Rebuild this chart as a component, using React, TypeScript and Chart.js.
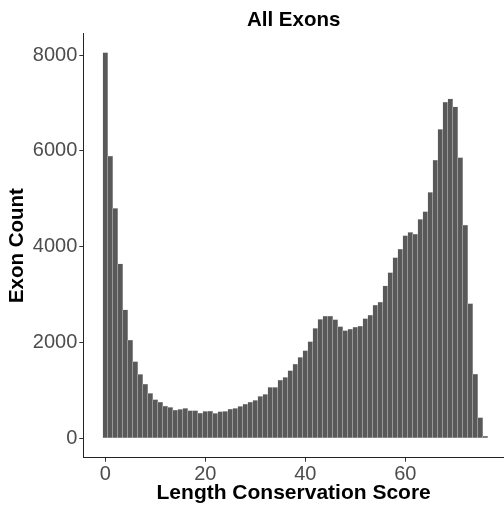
import React, { useEffect, useRef } from "react";
import { Chart, registerables } from "chart.js";

Chart.register(...registerables);

// Histogram bins (bin width 1, centred on the score)
const scores = [
  0, 1, 2, 3, 4, 5, 6, 7, 8, 9,
  10, 11, 12, 13, 14, 15, 16, 17, 18, 19,
  20, 21, 22, 23, 24, 25, 26, 27, 28, 29,
  30, 31, 32, 33, 34, 35, 36, 37, 38, 39,
  40, 41, 42, 43, 44, 45, 46, 47, 48, 49,
  50, 51, 52, 53, 54, 55, 56, 57, 58, 59,
  60, 61, 62, 63, 64, 65, 66, 67, 68, 69,
  70, 71, 72, 73, 74, 75, 76,
];

const exonCounts = [
  8050, 5890, 4800, 3640, 2680, 2050, 1600, 1336, 1133, 939,
  806, 758, 674, 647, 591, 605, 626, 576, 580, 528,
  563, 570, 522, 556, 563, 612, 626, 668, 716, 758,
  793, 876, 918, 1064, 1064, 1217, 1273, 1411, 1548, 1688,
  1829, 2017, 2296, 2484, 2553, 2553, 2476, 2330, 2246, 2281,
  2323, 2344, 2497, 2574, 2782, 2845, 3182, 3460, 3770, 3951,
  4229, 4300, 4264, 4571, 4730, 5134, 5809, 6449, 7020, 7088,
  6921, 5857, 4452, 2810, 1342, 430, 48,
];

const xTickValues = [0, 20, 40, 60];
const yTickValues = [0, 2000, 4000, 6000, 8000];

const chartTitle = "All Exons";
const xAxisTitle = "Length Conservation Score";
const yAxisTitle = "Exon Count";

const FONT = '"Liberation Sans", Arial, Helvetica, sans-serif';

// Title centred over the plotting panel rather than the whole canvas
const panelTitle = {
  id: "panelTitle",
  afterDraw(chart: any) {
    const { ctx, chartArea } = chart;
    ctx.save();
    ctx.font = `bold 20.5px ${FONT}`;
    ctx.fillStyle = "#000000";
    ctx.textAlign = "center";
    ctx.textBaseline = "middle";
    ctx.fillText(chartTitle, (chartArea.left + chartArea.right) / 2, 20);
    ctx.restore();
  },
};

export default function App() {
  const canvasRef = useRef<HTMLCanvasElement | null>(null);

  useEffect(() => {
    if (!canvasRef.current) return;
    const chart = new Chart(canvasRef.current, {
      type: "bar",
      data: {
        datasets: [
          {
            data: scores.map((s, i) => ({ x: s, y: exonCounts[i] })),
            backgroundColor: "#595959",
            borderColor: "#d4d4d4",
            borderWidth: 0.5,
            barPercentage: 1,
            categoryPercentage: 1,
          },
        ],
      },
      plugins: [panelTitle],
      options: {
        animation: false,
        responsive: true,
        maintainAspectRatio: false,
        layout: { padding: { top: 33.5, left: 0, right: 0, bottom: 0 } },
        plugins: {
          legend: { display: false },
          tooltip: { enabled: false },
          title: { display: false },
        },
        scales: {
          x: {
            type: "linear",
            min: -4.4,
            max: 79.74,
            offset: false,
            afterBuildTicks: (s: any) => {
              s.ticks = xTickValues.map((v) => ({ value: v }));
            },
            afterFit: (s: any) => {
              s.height = 54.3;
            },
            grid: {
              offset: false,
              drawOnChartArea: false,
              drawTicks: true,
              tickLength: 4,
              color: "#333333",
              lineWidth: 1,
            },
            border: { display: true, color: "#222222", width: 1 },
            ticks: {
              color: "#4d4d4d",
              font: { family: FONT, size: 20 },
              padding: 1,
              maxRotation: 0,
              autoSkip: false,
              callback: (v: any) => String(v),
            },
            title: {
              display: true,
              text: xAxisTitle,
              color: "#000000",
              font: { family: FONT, size: 21, weight: "bold" },
              padding: { top: 0, bottom: 6 },
            },
          },
          y: {
            type: "linear",
            min: -405,
            max: 8449,
            afterBuildTicks: (s: any) => {
              s.ticks = yTickValues.map((v) => ({ value: v }));
            },
            afterFit: (s: any) => {
              s.width = 83.3;
            },
            grid: {
              drawOnChartArea: false,
              drawTicks: true,
              tickLength: 4,
              color: "#333333",
              lineWidth: 1,
            },
            border: { display: true, color: "#222222", width: 1 },
            ticks: {
              color: "#4d4d4d",
              font: { family: FONT, size: 20 },
              padding: 2,
              autoSkip: false,
              callback: (v: any) => String(v),
            },
            title: {
              display: true,
              text: yAxisTitle,
              color: "#000000",
              font: { family: FONT, size: 20.5, weight: "bold" },
              padding: { top: 5, bottom: 0 },
            },
          },
        },
      } as any,
    });
    return () => chart.destroy();
  }, []);

  return (
    <div
      style={{
        position: "absolute",
        left: 0,
        top: 0,
        width: 504,
        height: 512,
        background: "#ffffff",
      }}
    >
      <canvas ref={canvasRef} />
    </div>
  );
}
